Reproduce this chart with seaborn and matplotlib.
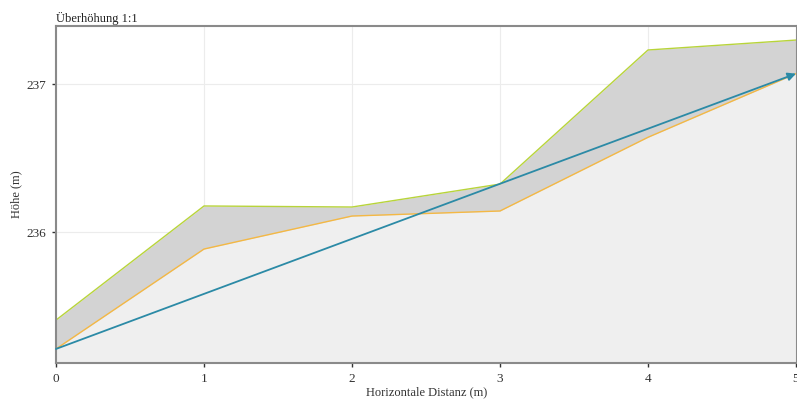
import matplotlib
matplotlib.use('Agg')
import matplotlib.pyplot as plt
import seaborn as sns
import pandas as pd

# Profil-Daten
distanz = [0, 1, 2, 3, 4, 5]
hoehe_oben = [235.405, 236.176, 236.169, 236.324, 237.23, 237.297]
hoehe_unten = [235.21, 235.885, 236.108, 236.142, 236.64, 237.07]
pfeil_x = [0, 5]
pfeil_y = [235.21, 237.07]

x_ticks = [0, 1, 2, 3, 4, 5]
y_ticks = [236, 237]
y_min, y_max = 235.115, 237.392

sns.set_style('white')
plt.rcParams['font.family'] = ['Liberation Serif', 'DejaVu Serif']

df = pd.DataFrame({'x': distanz, 'oben': hoehe_oben, 'unten': hoehe_unten})

fig = plt.figure(figsize=(7.97, 3.99), dpi=100)
ax = fig.add_axes([56 / 797, 36 / 399, 741 / 797, 337 / 399])

ax.set_xlim(0, 5.0068)
ax.set_ylim(y_min, y_max)

ax.grid(True, color='#ececec', linewidth=0.8, zorder=0)
ax.set_axisbelow(True)

ax.fill_between(df['x'], y_min, df['unten'], color='#efefef', zorder=1, linewidth=0)
ax.fill_between(df['x'], df['unten'], df['oben'], color='#d3d3d3', zorder=1, linewidth=0)

sns.lineplot(data=df, x='x', y='oben', color='#b8d43a', linewidth=1.0, ax=ax, zorder=2)
sns.lineplot(data=df, x='x', y='unten', color='#f4b844', linewidth=1.0, ax=ax, zorder=2)

ax.annotate('', xy=(pfeil_x[1], pfeil_y[1]), xytext=(pfeil_x[0], pfeil_y[0]),
            arrowprops=dict(arrowstyle='-|>', color='#2b8aa6', lw=1.3,
                            mutation_scale=12, shrinkA=0, shrinkB=0),
            zorder=3)

ax.set_xticks(x_ticks)
ax.set_yticks(y_ticks)
ax.tick_params(axis='both', labelsize=9.5, length=3, width=1, color='#333333',
               labelcolor='#333333', direction='out', pad=4)
ax.tick_params(axis='both', which='both', bottom=True, left=True)

for side in ['left', 'bottom', 'top', 'right']:
    ax.spines[side].set_color('#8a8a8a')
    ax.spines[side].set_linewidth(1.5)

ax.set_xlabel('Horizontale Distanz (m)', fontsize=9, color='#333333', labelpad=1)
ax.set_ylabel('Höhe (m)', fontsize=9, color='#333333', labelpad=3)
ax.set_title('Überhöhung 1:1', loc='left', fontsize=9, color='#222222', pad=3)

fig.savefig('out.png', dpi=100)
